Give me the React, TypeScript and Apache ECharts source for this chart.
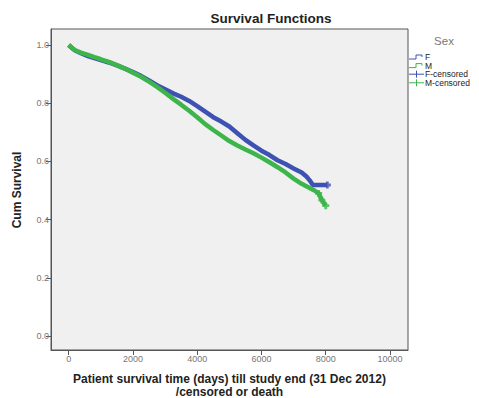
import React, { useEffect, useRef } from "react";
import * as echarts from "echarts";

const fDays = [0, 100, 200, 400, 600, 800, 1000, 1250, 1500, 1750, 2000, 2250, 2500, 2750, 3000, 3250, 3500, 3750, 4000, 4250, 4500, 4750, 5000, 5250, 5500, 5750, 6000, 6250, 6500, 6750, 7000, 7250, 7400, 7500, 7600, 8050];
const fSurv = [1.0, 0.99, 0.981, 0.971, 0.962, 0.955, 0.948, 0.94, 0.93, 0.919, 0.907, 0.894, 0.878, 0.862, 0.848, 0.834, 0.822, 0.808, 0.79, 0.771, 0.752, 0.737, 0.72, 0.697, 0.674, 0.655, 0.637, 0.622, 0.604, 0.591, 0.576, 0.562, 0.548, 0.535, 0.519, 0.519];
const mDays = [0, 100, 200, 400, 600, 800, 1000, 1250, 1500, 1750, 2000, 2250, 2500, 2750, 3000, 3250, 3500, 3750, 4000, 4250, 4500, 4750, 5000, 5250, 5500, 5750, 6000, 6250, 6500, 6750, 7000, 7250, 7500, 7650, 7780, 7880, 8000];
const mSurv = [1.0, 0.99, 0.982, 0.973, 0.966, 0.958, 0.951, 0.942, 0.931, 0.919, 0.905, 0.891, 0.874, 0.856, 0.836, 0.815, 0.795, 0.774, 0.752, 0.728, 0.708, 0.689, 0.67, 0.655, 0.641, 0.628, 0.613, 0.597, 0.58, 0.562, 0.541, 0.523, 0.509, 0.5, 0.49, 0.467, 0.448];
const fCensDays = [8050];
const fCensSurv = [0.519];
const mCensDays = [7780, 7880, 8000];
const mCensSurv = [0.49, 0.467, 0.448];

const xTicks = [0, 2000, 4000, 6000, 8000, 10000];
const yTicks = [0.0, 0.2, 0.4, 0.6, 0.8, 1.0];
const legendLabels = ["F", "M", "F-censored", "M-censored"];

const BLUE = "#3d52b2";
const GREEN = "#3db54a";
const FONT = "'Liberation Sans', Arial, sans-serif";
const PLUS = "path://M3,0H7V3H10V7H7V10H3V7H0V3H3Z";

const zip = (a: number[], b: number[]) => a.map((v, i) => [v, b[i]]);

export default function App() {
  const ref = useRef<HTMLDivElement>(null);
  useEffect(() => {
    if (!ref.current) return;
    const chart = echarts.init(ref.current, undefined, { renderer: "svg" });
    const legendY = [57, 65.6, 74.2, 82.8];
    const legendColors = [BLUE, GREEN, BLUE, GREEN];
    const legendGraphics: any[] = [];
    legendLabels.forEach((lab, i) => {
      const y = legendY[i];
      if (i < 2) {
        legendGraphics.push({
          type: "polyline",
          shape: { points: [[409, y + 2], [416, y + 2], [416, y - 2], [422, y - 2], [422, y]] },
          style: { stroke: legendColors[i], lineWidth: 1, fill: null },
        });
      } else {
        legendGraphics.push({
          type: "line",
          shape: { x1: 409, y1: y, x2: 424, y2: y },
          style: { stroke: legendColors[i], lineWidth: 1 },
        });
        legendGraphics.push({
          type: "line",
          shape: { x1: 416.5, y1: y - 3.5, x2: 416.5, y2: y + 3.5 },
          style: { stroke: legendColors[i], lineWidth: 1 },
        });
      }
      legendGraphics.push({
        type: "text",
        x: 425,
        y: y,
        style: { text: lab, font: `8.5px ${FONT}`, fill: "#222", textVerticalAlign: "middle", textAlign: "left" },
      });
    });

    chart.setOption({
      animation: false,
      backgroundColor: "#ffffff",
      grid: {
        left: 51,
        top: 29,
        right: 71,
        bottom: 48,
        show: true,
        backgroundColor: "#f0f0f0",
        borderColor: "#555",
        borderWidth: 1,
      },
      xAxis: {
        type: "value",
        min: -550,
        max: 10560,
        axisLine: { show: true, onZero: false, lineStyle: { color: "#555", width: 1 } },
        axisTick: { show: true, length: 5, customValues: xTicks, lineStyle: { color: "#555" } },
        axisLabel: {
          customValues: xTicks,
          color: "#777",
          fontSize: 9,
          fontFamily: FONT,
          margin: 4,
          formatter: (v: number) => String(v),
        },
        splitLine: { show: false },
      },
      yAxis: {
        type: "value",
        min: -0.048,
        max: 1.055,
        axisLine: { show: true, onZero: false, lineStyle: { color: "#555", width: 1 } },
        axisTick: { show: true, length: 5, customValues: yTicks, lineStyle: { color: "#555" } },
        axisLabel: {
          customValues: yTicks,
          color: "#777",
          fontSize: 9,
          fontFamily: FONT,
          margin: 2,
          formatter: (v: number) => v.toFixed(1),
        },
        splitLine: { show: false },
      },
      series: [
        {
          type: "line",
          name: "F",
          data: zip(fDays, fSurv),
          showSymbol: false,
          lineStyle: { color: BLUE, width: 4.5 },
          itemStyle: { color: BLUE },
          z: 2,
        },
        {
          type: "line",
          name: "M",
          data: zip(mDays, mSurv),
          showSymbol: false,
          lineStyle: { color: GREEN, width: 4.5 },
          itemStyle: { color: GREEN },
          z: 3,
        },
        {
          type: "scatter",
          name: "F-censored",
          data: zip(fCensDays, fCensSurv),
          symbol: PLUS,
          symbolSize: 7,
          itemStyle: { color: BLUE },
          z: 4,
        },
        {
          type: "scatter",
          name: "M-censored",
          data: zip(mCensDays, mCensSurv),
          symbol: PLUS,
          symbolSize: 7,
          itemStyle: { color: GREEN },
          z: 5,
        },
      ],
      graphic: [
        {
          type: "text",
          x: 271,
          y: 18,
          style: { text: "Survival Functions", font: `bold 13.5px ${FONT}`, fill: "#222", textAlign: "center", textVerticalAlign: "middle" },
        },
        {
          type: "text",
          x: 229.5,
          y: 385.5,
          style: {
            text: "Patient survival time (days) till study end (31 Dec 2012)\n/censored or death",
            font: `bold 12px ${FONT}`,
            lineHeight: 12.5,
            fill: "#222",
            align: "center",
            textAlign: "center",
            textVerticalAlign: "middle",
          },
        },
        {
          type: "text",
          x: 17,
          y: 190,
          rotation: Math.PI / 2,
          style: { text: "Cum Survival", font: `bold 12px ${FONT}`, fill: "#222", textAlign: "center", textVerticalAlign: "middle" },
        },
        {
          type: "text",
          x: 444,
          y: 41,
          style: { text: "Sex", font: `11.5px ${FONT}`, fill: "#777", textAlign: "center", textVerticalAlign: "middle" },
        },
        ...legendGraphics,
      ],
    });
    return () => chart.dispose();
  }, []);
  return <div ref={ref} style={{ position: "fixed", left: 0, top: 0, width: 479, height: 398 }} />;
}
